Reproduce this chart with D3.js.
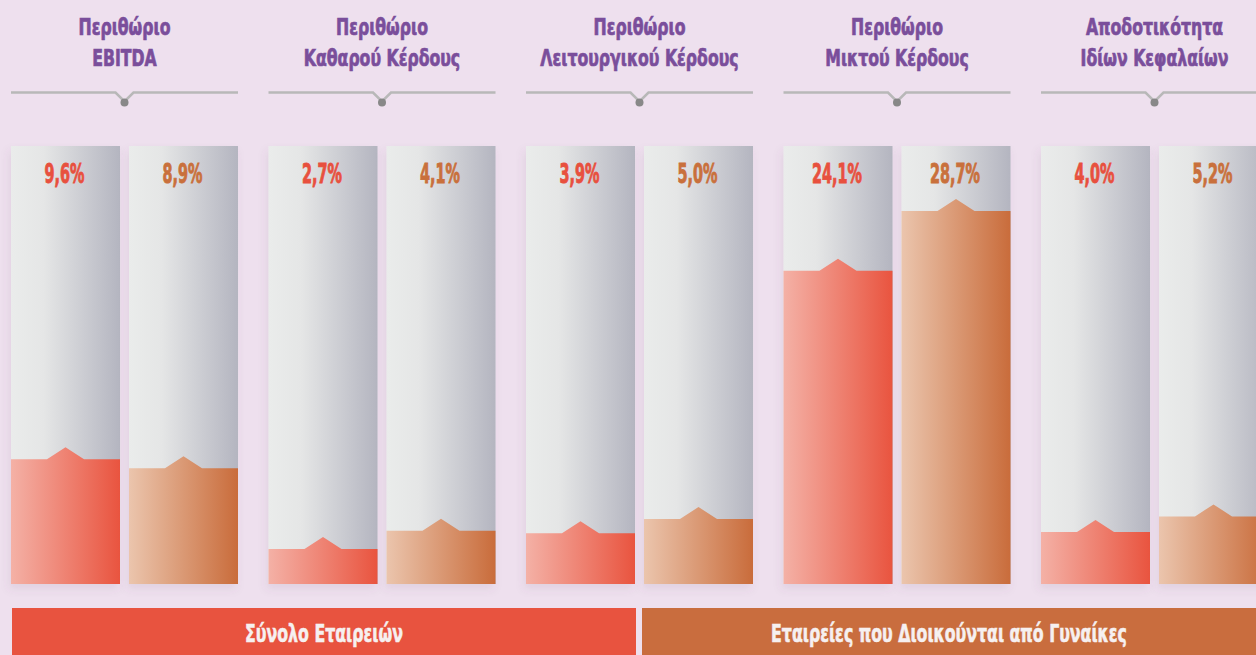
<!DOCTYPE html>
<html>
<head>
<meta charset="utf-8">
<script src="https://cdn.jsdelivr.net/npm/d3@7"></script>
<style>
  html, body { margin: 0; padding: 0; background: #eee0ee; }
  svg { display: block; }
  .title, .value, .legend-text { font-family: "Liberation Sans Narrow", "DejaVu Sans Condensed", "DejaVu Sans", sans-serif; font-weight: bold; paint-order: stroke; }
  .title { fill: #7a4e9b; stroke: #7a4e9b; stroke-width: 0.7px; }
  .value { stroke-width: 0.9px; }
  .legend-text { fill: #f6f0f0; stroke: #f6f0f0; stroke-width: 0.6px; }
</style>
</head>
<body>
<div id="chart"></div>
<script>
// data
let groups = ['ebitda', 'net', 'operating', 'gross', 'roe']
let titleLines = [
    ['Περιθώριο', 'EBITDA'],
    ['Περιθώριο', 'Καθαρού Κέρδους'],
    ['Περιθώριο', 'Λειτουργικού Κέρδους'],
    ['Περιθώριο', 'Μικτού Κέρδους'],
    ['Αποδοτικότητα', 'Ιδίων Κεφαλαίων']
]
let seriesKeys = ['total', 'women']
let seriesNames = ['Σύνολο Εταιρειών', 'Εταιρείες που Διοικούνται από Γυναίκες']
let totalValues = [9.6, 2.7, 3.9, 24.1, 4.0]
let womenValues = [8.9, 4.1, 5.0, 28.7, 5.2]

let width = 1256
let height = 655
let margin = {top: 146, bottom: 71}

let svg = d3.select('#chart').append('svg').attr('width', width).attr('height', height)
let defs = svg.append('defs')

function linearGrad(id, stops) {
    let g = defs.append('linearGradient').attr('id', id).attr('x1', '0%').attr('x2', '100%').attr('y1', '0%').attr('y2', '0%')
    stops.forEach(s => g.append('stop').attr('offset', s[0]).attr('stop-color', s[1]))
}
linearGrad('colbg', [['0%', '#eaeceb'], ['30%', '#e5e6e6'], ['100%', '#b4b5c0']])
linearGrad('fill-total', [['0%', '#f4b1a6'], ['100%', '#e9543f']])
linearGrad('fill-women', [['0%', '#ebc5ad'], ['100%', '#c96c3b']])

let shadow = defs.append('filter').attr('id', 'shadow').attr('x', '-20%').attr('y', '-10%').attr('width', '140%').attr('height', '130%')
shadow.append('feDropShadow').attr('dx', -2).attr('dy', 5).attr('stdDeviation', 4)
    .attr('flood-color', '#6a4a6a').attr('flood-opacity', 0.1)

let colors = {total: '#e8533f', women: '#c96d3e'}
let labelColors = {total: '#e8503e', women: '#c9703c'}

let data = groups.map((g, i) => ({group: g, lines: titleLines[i], total: totalValues[i], women: womenValues[i]}))

let x0 = d3.scaleBand().domain(groups).range([11, 1268]).paddingInner(30.5 / 257.5)
let x1 = d3.scaleBand().domain(seriesKeys).range([0, x0.bandwidth()]).paddingInner(9 / 118)
let y = d3.scaleLinear().domain([0, 33.7]).range([height - margin.bottom, margin.top])
let bottom = y(0)
let bw = x1.bandwidth()
let peak = 12
let fmt = v => d3.format('.1f')(v).replace('.', ',') + '%'

// the source uses a condensed face; squeeze the installed one to the measured widths
function squeeze(cls, size, sample, target) {
    let t = svg.append('text').attr('class', cls).attr('font-size', size).text(sample)
    let len = t.node().getComputedTextLength()
    t.remove()
    return target / len
}
let titleScale = squeeze('title', 23, 'Περιθώριο', 92)
let valueScale = squeeze('value', 27, '9,6%', 40)
let legendScale = squeeze('legend-text', 25, 'Σύνολο Εταιρειών', 158)

function squeezedText(sel, cls, size, sx, x, yy, txt) {
    return sel.append('g').attr('transform', 'translate(' + x + ',' + yy + ') scale(' + sx + ',1)')
        .append('text').attr('class', cls).attr('text-anchor', 'middle').attr('font-size', size).text(txt)
}

let group = svg.selectAll('.group').data(data).enter().append('g')
    .attr('class', 'group')
    .attr('transform', d => 'translate(' + x0(d.group) + ',0)')

// titles and the notched rule under them
group.each(function (d) {
    let g = d3.select(this)
    let cx = x0.bandwidth() / 2
    d.lines.forEach((l, i) => squeezedText(g, 'title', 23, titleScale, cx, 35 + i * 31, l))
    let ly = 92.5
    g.append('path')
        .attr('d', 'M0,' + ly + 'H' + (cx - 9) + 'L' + cx + ',' + (ly + 9) + 'L' + (cx + 9) + ',' + ly + 'H' + x0.bandwidth())
        .attr('fill', 'none').attr('stroke', '#b8b8b8').attr('stroke-width', 2.5)
    g.append('circle').attr('cx', cx).attr('cy', ly + 10).attr('r', 4).attr('fill', '#888888')
})

// columns
let cols = group.selectAll('.col').data(d => seriesKeys.map(k => ({key: k, value: d[k]})))
    .enter().append('g').attr('class', 'col')
    .attr('transform', d => 'translate(' + x1(d.key) + ',0)')

cols.append('rect').attr('x', 0).attr('y', y.range()[1]).attr('width', bw).attr('height', bottom - y.range()[1])
    .attr('fill', 'url(#colbg)').attr('filter', 'url(#shadow)')

cols.append('path')
    .attr('d', d => {
        let top = y(d.value)
        return 'M0,' + bottom + 'V' + top + 'H' + (bw * 0.33) + 'L' + (bw / 2) + ',' + (top - peak)
            + 'L' + (bw * 0.67) + ',' + top + 'H' + bw + 'V' + bottom + 'Z'
    })
    .attr('fill', d => 'url(#fill-' + d.key + ')')

cols.each(function (d) {
    squeezedText(d3.select(this), 'value', 27, valueScale, bw / 2 - 1, 183, fmt(d.value))
        .attr('fill', labelColors[d.key]).attr('stroke', labelColors[d.key])
})

// legend strips along the bottom
let legendX = [[12, 636], [642, 1256]]
let legend = svg.selectAll('.legend').data(seriesKeys).enter().append('g').attr('class', 'legend')
legend.append('rect')
    .attr('x', (d, i) => legendX[i][0]).attr('y', 608)
    .attr('width', (d, i) => legendX[i][1] - legendX[i][0]).attr('height', 47)
    .attr('fill', d => colors[d])
legend.each(function (d, i) {
    squeezedText(d3.select(this), 'legend-text', 25, legendScale, (legendX[i][0] + legendX[i][1]) / 2, 642, seriesNames[i])
})
</script>
</body>
</html>
